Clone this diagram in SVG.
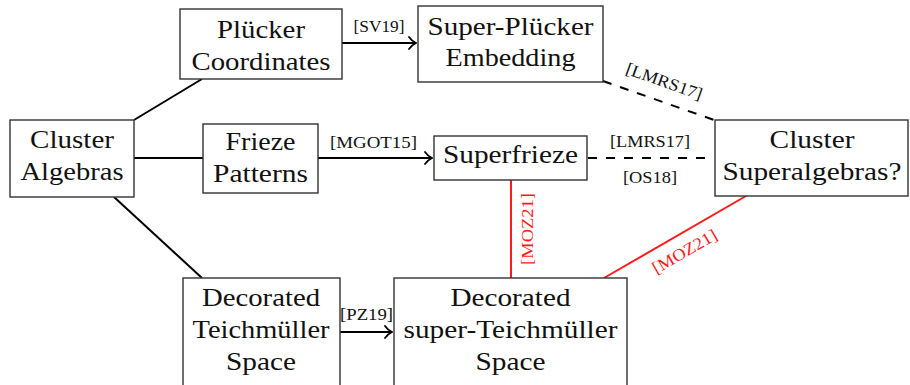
<svg xmlns="http://www.w3.org/2000/svg" width="910" height="385" viewBox="0 0 910 385">
  <style>
    .box { fill: #ffffff; stroke: #333333; stroke-width: 1.4; }
    .node { font-family: "Liberation Serif", "Times New Roman", serif; font-size: 26px; fill: #111111; text-anchor: middle; }
    .lbl { font-family: "Liberation Serif", "Times New Roman", serif; font-size: 17px; fill: #111111; text-anchor: middle; }
    .lbl.red { fill: #ff1a1a; }
    .edge { fill: none; stroke: #000000; stroke-width: 2; }
    .dash { stroke-dasharray: 9 9; }
    .redge { fill: none; stroke: #ff1a1a; stroke-width: 2; }
  </style>
  <defs>
    <marker id="to" viewBox="-9 -8 10 16" refX="0" refY="0" markerWidth="10" markerHeight="16" markerUnits="userSpaceOnUse" orient="auto">
      <path d="M -7 -6 C -5 -3 -2 -1 0 0 C -2 1 -5 3 -7 6" fill="none" stroke="#000000" stroke-width="1.8" stroke-linecap="round"/>
    </marker>
  </defs>

  <rect width="910" height="385" fill="#ffffff"/>

  <!-- connectors -->
  <g id="connectors">
    <line class="edge" x1="134" y1="120" x2="202" y2="79"/>
    <line class="edge" x1="134" y1="158" x2="203" y2="158"/>
    <line class="edge" x1="114" y1="197" x2="202" y2="278"/>
    <line class="edge" x1="342" y1="43" x2="416" y2="43" marker-end="url(#to)"/>
    <line class="edge" x1="318" y1="158" x2="432" y2="158" marker-end="url(#to)"/>
    <line class="edge" x1="340" y1="332" x2="392" y2="332" marker-end="url(#to)"/>
    <line class="edge dash" x1="588" y1="158" x2="714" y2="158"/>
    <line class="edge dash" x1="603" y1="81" x2="714" y2="120"/>
    <line class="redge" x1="511" y1="180" x2="511" y2="278"/>
    <line class="redge" x1="604" y1="278" x2="746" y2="196"/>

    <text class="lbl" x="379" y="32" textLength="51" lengthAdjust="spacingAndGlyphs">[SV19]</text>
    <text class="lbl" x="373.5" y="148" textLength="87" lengthAdjust="spacingAndGlyphs">[MGOT15]</text>
    <text class="lbl" x="366.5" y="320" textLength="53" lengthAdjust="spacingAndGlyphs">[PZ19]</text>
    <text class="lbl" x="650" y="147" textLength="80" lengthAdjust="spacingAndGlyphs">[LMRS17]</text>
    <text class="lbl" x="650" y="183" textLength="54" lengthAdjust="spacingAndGlyphs">[OS18]</text>
    <text class="lbl" transform="translate(664,82) rotate(19.5)" x="0" y="5" textLength="80" lengthAdjust="spacingAndGlyphs">[LMRS17]</text>
    <text class="lbl red" transform="translate(533,229) rotate(-90)" x="0" y="0" textLength="72" lengthAdjust="spacingAndGlyphs">[MOZ21]</text>
    <text class="lbl red" transform="translate(685,252) rotate(-30)" x="0" y="5" textLength="72" lengthAdjust="spacingAndGlyphs">[MOZ21]</text>
  </g>

  <!-- nodes -->
  <g id="cluster-algebras">
    <rect class="box" x="10" y="120" width="124" height="77"/>
    <text class="node" x="72" y="148" textLength="84" lengthAdjust="spacingAndGlyphs">Cluster</text>
    <text class="node" x="72" y="180" textLength="103" lengthAdjust="spacingAndGlyphs">Algebras</text>
  </g>

  <g id="plucker-coordinates">
    <rect class="box" x="180" y="9" width="162" height="70"/>
    <text class="node" x="261" y="38" textLength="88" lengthAdjust="spacingAndGlyphs">Plücker</text>
    <text class="node" x="261" y="70" textLength="139" lengthAdjust="spacingAndGlyphs">Coordinates</text>
  </g>

  <g id="frieze-patterns">
    <rect class="box" x="203" y="124" width="115" height="69"/>
    <text class="node" x="260.5" y="150" textLength="70" lengthAdjust="spacingAndGlyphs">Frieze</text>
    <text class="node" x="260.5" y="182" textLength="95" lengthAdjust="spacingAndGlyphs">Patterns</text>
  </g>

  <g id="decorated-teichmuller">
    <rect class="box" x="183" y="278" width="157" height="120"/>
    <text class="node" x="261" y="306" textLength="118" lengthAdjust="spacingAndGlyphs">Decorated</text>
    <text class="node" x="261" y="338" textLength="137" lengthAdjust="spacingAndGlyphs">Teichmüller</text>
    <text class="node" x="261" y="370" textLength="70" lengthAdjust="spacingAndGlyphs">Space</text>
  </g>

  <g id="super-plucker-embedding">
    <rect class="box" x="418" y="6" width="185" height="76"/>
    <text class="node" x="510.5" y="35" textLength="166" lengthAdjust="spacingAndGlyphs">Super-Plücker</text>
    <text class="node" x="510.5" y="66" textLength="130" lengthAdjust="spacingAndGlyphs">Embedding</text>
  </g>

  <g id="superfrieze">
    <rect class="box" x="434" y="136" width="153" height="44"/>
    <text class="node" x="510.5" y="163" textLength="135" lengthAdjust="spacingAndGlyphs">Superfrieze</text>
  </g>

  <g id="decorated-super-teichmuller">
    <rect class="box" x="394" y="278" width="233" height="120"/>
    <text class="node" x="510.5" y="306" textLength="120" lengthAdjust="spacingAndGlyphs">Decorated</text>
    <text class="node" x="510.5" y="338" textLength="214" lengthAdjust="spacingAndGlyphs">super-Teichmüller</text>
    <text class="node" x="510.5" y="370" textLength="70" lengthAdjust="spacingAndGlyphs">Space</text>
  </g>

  <g id="cluster-superalgebras">
    <rect class="box" x="715" y="120" width="193" height="76"/>
    <text class="node" x="812" y="148" textLength="85" lengthAdjust="spacingAndGlyphs">Cluster</text>
    <text class="node" x="812" y="180" textLength="179" lengthAdjust="spacingAndGlyphs">Superalgebras?</text>
  </g>
</svg>
